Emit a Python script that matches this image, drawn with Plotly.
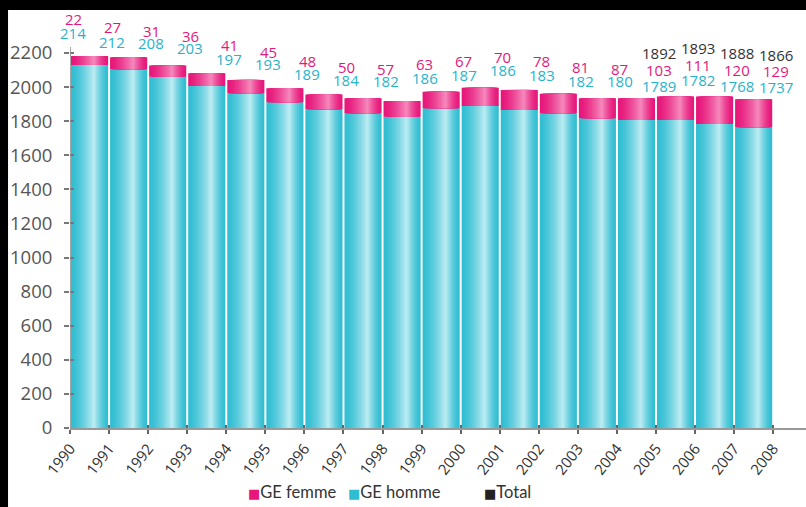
import plotly.graph_objects as go

# ---------------- data ----------------
years = list(range(1990, 2009))                       # tick labels / label columns
bar_years = list(range(1991, 2009))                   # bars sit between ticks (year-1 .. year)

homme_bar = [2130, 2104, 2061, 2006, 1963, 1911, 1870, 1846, 1826,
             1876, 1889, 1866, 1846, 1817, 1807, 1807, 1784, 1764]
femme_bar = [52, 71, 65, 75, 79, 82, 87, 88, 92,
             97, 107, 117, 115, 117, 127, 137, 160, 164]

femme_labels = [22, 27, 31, 36, 41, 45, 48, 50, 57, 63, 67, 70, 78, 81, 87, 103, 111, 120, 129]
homme_labels = [214, 212, 208, 203, 197, 193, 189, 184, 182, 186, 187, 186, 183, 182, 180,
                1789, 1782, 1768, 1737]
total_labels = [None] * 15 + [1892, 1893, 1888, 1866]

# heights (in axis units) at which the printed labels sit
femme_label_y = [2400, 2353, 2329, 2300, 2247, 2206, 2153, 2115, 2106, 2136, 2150, 2174,
                 2153, 2115, 2106, 2100, 2130, 2100, 2092]
homme_label_y = [2320, 2265, 2259, 2229, 2165, 2136, 2074, 2042, 2036, 2053, 2071, 2100,
                 2071, 2036, 2033, 2009, 2039, 2009, 1998]
total_label_y = [None] * 15 + [2197, 2229, 2197, 2188]

yticks = list(range(0, 2201, 200))
y_axis_top = 2235      # where the drawn y-axis line stops

# ---------------- styles ----------------
CYAN = (0x30, 0xbd, 0xd2)
CYAN_LIGHT = (0xbf, 0xec, 0xf3)
PINK = (0xe6, 0x16, 0x7a)
PINK_LIGHT = (0xf6, 0x8a, 0xbd)
FONT = "Open Sans, DejaVu Sans, sans-serif"
LFONT = "Lato, Open Sans, DejaVu Sans, sans-serif"


def mix(c1, c2, f):
    return "#%02x%02x%02x" % tuple(round(a + (b - a) * f) for a, b in zip(c1, c2))


fig = go.Figure()

bar_x = [y - 0.5 for y in bar_years]
W = 0.95
C = 0.62
N = 14


def add_gradient_bars(values, base, c_dark, c_light):
    for k in range(N):
        t = 1 - k / N
        tm = t - 0.5 / N
        f = (1 - tm) ** 1.5
        left = -W / 2 + (1 - t) * C * W
        fig.add_trace(go.Bar(
            x=bar_x, y=values, base=base,
            width=t * W, offset=left,
            marker=dict(color=mix(c_dark, c_light, f), line=dict(width=0)),
            hoverinfo="skip", showlegend=False,
        ))


add_gradient_bars(homme_bar, [0] * len(homme_bar), CYAN, CYAN_LIGHT)
add_gradient_bars(femme_bar, homme_bar, PINK, PINK_LIGHT)

# dummy trace for the overlay axes (crossing tick marks)
fig.add_trace(go.Scatter(x=[None], y=[None], xaxis="x2", yaxis="y2", showlegend=False,
                         hoverinfo="skip"))


# printed values
def add_labels(values, heights, color):
    for yr, v, h in zip(years, values, heights):
        if v is None:
            continue
        fig.add_annotation(x=yr, y=h, xref="x", yref="y", text=str(v), showarrow=False,
                           xanchor="center", yanchor="middle", borderpad=0, xshift=3,
                           font=dict(family=FONT, size=15, color=color))


add_labels(homme_labels, homme_label_y, "#27b3cc")
add_labels(femme_labels, femme_label_y, "#e3187c")
add_labels(total_labels, total_label_y, "#333333")

XR = [1989.999, 2008.84]
YR = [0, 2452]

fig.update_layout(
    width=806, height=507, autosize=False,
    margin=dict(l=70, r=0, t=10, b=79, pad=0),
    paper_bgcolor="white", plot_bgcolor="white",
    barmode="overlay", showlegend=False,
    xaxis=dict(range=XR, tickmode="array", tickvals=years, ticktext=[str(y) for y in years],
               tickangle=-52, ticks="outside", ticklen=4, tickwidth=2, tickcolor="#666",
               showline=True, linecolor="#999", linewidth=1.5, showgrid=False, zeroline=False,
               tickfont=dict(family=FONT, size=15, color="#333")),
    yaxis=dict(range=YR, tickmode="array", tickvals=yticks, ticks="outside", ticklen=5,
               tickwidth=1.5, tickcolor="#777", showline=False, showgrid=False, zeroline=False,
               ticklabelstandoff=8,
               tickfont=dict(family=FONT, size=18.5, color="#555")),
    xaxis2=dict(range=XR, overlaying="x", anchor="y2", side="bottom", tickmode="array",
                tickvals=years, ticks="inside", ticklen=3, tickwidth=2, tickcolor="#666",
                showticklabels=False, showline=False, showgrid=False, zeroline=False),
    yaxis2=dict(range=YR, overlaying="y", anchor="x2", side="left", tickmode="array",
                tickvals=yticks, ticks="inside", ticklen=4, tickwidth=1.5, tickcolor="#777",
                showticklabels=False, showline=False, showgrid=False, zeroline=False),
)

# y-axis line, stopping just above the last tick
fig.add_shape(type="line", xref="x", yref="y", x0=XR[0], x1=XR[0], y0=0, y1=y_axis_top,
              line=dict(color="#888", width=1.5), layer="above")

# legend drawn as text items
legend_items = [("GE femme", "#e6167a", 0.2391), ("GE homme", "#30bdd2", 0.375), ("Total", "#222222", 0.5598)]
for name, col, xp in legend_items:
    fig.add_annotation(x=xp, y=-0.1531, xref="paper", yref="paper", xanchor="left", yanchor="middle",
                       showarrow=False,
                       text=f'<span style="color:{col};font-size:13px">■</span>{name}',
                       font=dict(family=LFONT, size=16.5, color="#333"))

# black frame bands (top and left)
fig.add_shape(type="rect", xref="paper", yref="paper", x0=-0.2, x1=1.2, y0=1.0, y1=1.3,
              fillcolor="black", line=dict(width=0), layer="above")
fig.add_shape(type="rect", xref="paper", yref="paper", x0=-0.2, x1=-0.0842, y0=-0.3, y1=1.3,
              fillcolor="black", line=dict(width=0), layer="above")

fig.write_html("out.html", config={"displayModeBar": False},
               post_script="document.body.style.margin='0';document.body.style.overflow='hidden';")
